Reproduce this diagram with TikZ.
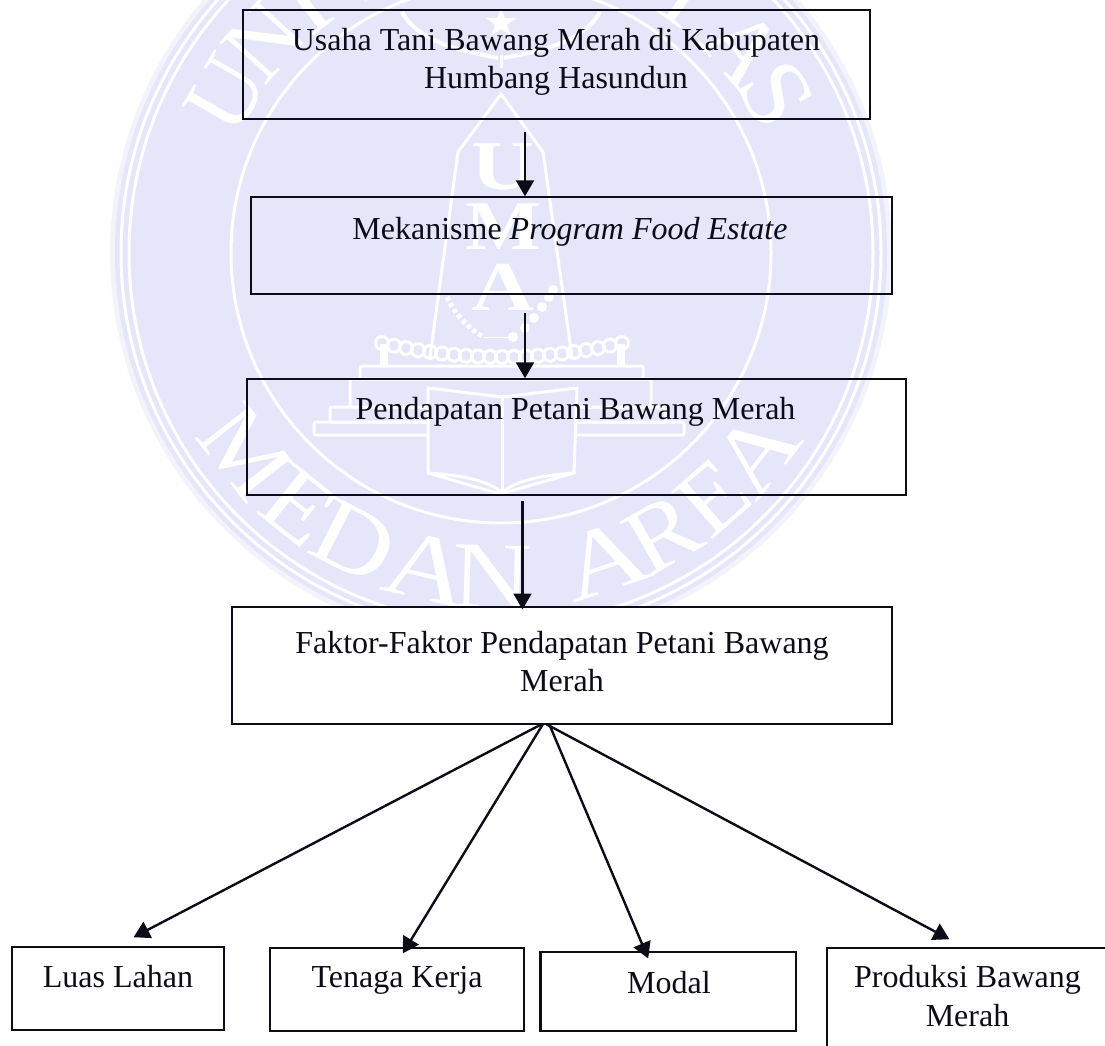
\documentclass[tikz,border=0pt]{standalone}
\usepackage{fontspec}
\usepackage{graphicx}
\setmainfont{Liberation Serif}
\usetikzlibrary{arrows.meta}
\definecolor{wmbg}{HTML}{E5E6F9}
\definecolor{wmedge}{HTML}{F3F3FC}
\definecolor{ink}{HTML}{0C0C18}
\tikzset{
  boxa/.style={draw=ink,line width=2.4pt,inner sep=0pt},
  whitebox/.style={boxa,fill=white},
  lab/.style={font=\fontsize{32}{38.5}\selectfont,text=ink,inner sep=0pt,anchor=base},
  labc/.style={font=\fontsize{32}{38.5}\selectfont,text=ink,inner sep=0pt,align=center,anchor=center},
  arr/.style={draw=ink,line width=2.4pt,-{Triangle[length=16pt,width=18pt,fill=ink]},shorten >=-0.5pt},
  wmline/.style={draw=white,line width=3pt},
  wmletter/.style={text=white,font=\fontsize{96}{96}\selectfont,inner sep=0pt,anchor=center},
  wmcore/.style={text=white,font=\fontsize{70}{70}\selectfont\bfseries,inner sep=0pt,anchor=center},
  wmstep/.style={wmline,rounded corners=2pt,fill=wmbg}
}
\begin{document}
\begin{tikzpicture}[x=1pt,y=-1pt]
\useasboundingbox (0,0) rectangle (1105,1046);
\clip (0,0) rectangle (1105,1046);
% watermark
\fill[wmedge] (501,253) circle (391);
\fill[wmbg] (501,253) circle (386);
\draw[wmline] (501,253) circle (380);
\draw[wmline] (501,253) circle (372);
\draw[wmline] (501,253) circle (270);
\foreach \c/\a/\s [count=\i] in {U/-60/1.0,N/-48/1.0,I/-38/1.1,V/-28/1.1,E/-17/1.1,R/-5/1.1,S/5/1.1,I/15/1.1,T/36/1.0,A/49.7/1.0,S/60/1.1}
  \node[wmletter,rotate=-\a] (wmt\i) at ({501+318*sin(\a)},{253-318*cos(\a)}) {\scalebox{\s}[1]{\c}};
\foreach \c/\a/\s [count=\i] in {M/-52/1.05,E/-38.5/1.1,D/-27/1.15,A/-13/1.25,N/-1.5/1.15,A/18.6/1.25,R/30/1.08,E/41/1.05,A/52/1.15}
  \node[wmletter,rotate=\a] (wmb\i) at ({501+324*sin(\a)},{253+324*cos(\a)}) {\scalebox{\s}[1]{\c}};
% star and wings
\fill[white] (501,8) -- (505,18) -- (516,18) -- (507,25) -- (511,36) -- (501,29) -- (491,36) -- (495,25) -- (486,18) -- (497,18) -- cycle;
\draw[wmline,line width=4pt] (402,12) .. controls (420,45) and (470,52) .. (498,58);
\draw[wmline,line width=4pt] (600,12) .. controls (582,45) and (532,52) .. (504,58);
\draw[wmline] (501,55) -- (501,68);
% monument
\draw[wmline] (430,357) -- (458,152) -- (501,94) -- (543,152) -- (572,357);
\node[wmcore] (wmu) at (503,167) {\scalebox{1.25}[1]{U}};
\node[wmcore] (wmm) at (503,227) {\scalebox{1.15}[1]{M}};
\node[wmcore] (wma) at (503,287) {\scalebox{1.25}[1]{A}};
% wheat and beads
\draw[wmline,line width=5pt,dash pattern=on 4pt off 3pt] (447,297) .. controls (455,315) and (470,330) .. (484,337);
\draw[wmline,line width=1pt] (484,337) -- (513,337);
\foreach \x/\y in {513/337,525/328,534/318,542/307,549/297,553/290}
  \fill[white] (\x,\y) circle (5);
% steps
\draw[wmstep] (314,422) rectangle (684,435);
\draw[wmstep] (330,407) rectangle (665,422);
\draw[wmstep] (350,379) rectangle (651,407);
\draw[wmstep] (360,366) rectangle (643,379);
\draw[wmline,line width=8pt] (384,344) -- (384,366) (621,344) -- (621,366);
% chain
\foreach \x in {382,394,...,622}
  \draw[wmline] (\x,{357-14*((\x-502)/120)*((\x-502)/120)}) circle (6.5);
% book
\draw[wmline,fill=wmbg] (428,388) -- (502,397) -- (577,388) -- (574,473) .. controls (545,475) and (515,480) .. (502,493) .. controls (489,480) and (459,475) .. (428,473) -- cycle;
\draw[wmline] (502,397) -- (502,491);
\draw[wmline] (428,473) -- (500,494) -- (574,473);

% boxes
\node[boxa,minimum width=627pt,minimum height=109pt] (b1) at (556.5,64.5) {};
\node[boxa,minimum width=641pt,minimum height=97pt] (b2) at (571.5,245.5) {};
\node[boxa,minimum width=659pt,minimum height=116pt] (b3) at (576.5,437) {};
\node[whitebox,minimum width=660pt,minimum height=117pt] (b4) at (562,665.5) {};
\node[whitebox,minimum width=212pt,minimum height=83pt] (c1) at (118,988.5) {};
\node[whitebox,minimum width=254pt,minimum height=83pt] (c2) at (397,989.5) {};
\node[whitebox,minimum width=255.5pt,minimum height=79pt] (c3) at (668.25,991.5) {};
\node[whitebox,minimum width=300pt,minimum height=130pt,anchor=north west] (c4) at (826,947) {};
% labels
\node[labc] (t1) at (556,62) {Usaha Tani Bawang Merah di Kabupaten\\Humbang Hasundun};
\node[lab] (t2) at (570,239) {Mekanisme \textit{Program Food Estate}};
\node[lab] (t3) at (575.5,419.5) {Pendapatan Petani Bawang Merah};
\node[labc] (t4) at (562,661.5) {Faktor-Faktor Pendapatan Petani Bawang\\Merah};
\node[lab] (t5) at (118,987) {Luas Lahan};
\node[lab] (t6) at (397,987) {Tenaga Kerja};
\node[lab] (t7) at (669,993) {Modal};
\node[labc] (t8) at (967.5,996) {Produksi Bawang\\Merah};
% connectors
\coordinate (s1) at (525,132);
\coordinate (s2) at (525,313);
\coordinate (s3) at (522.5,501);
\coordinate (e3) at (522.5,609);
\draw[arr] (s1) -- (s1 |- b2.north);
\draw[arr] (s2) -- (s2 |- b3.north);
\draw[arr] (s3) -- (e3);
\coordinate (f1) at (542,724);
\coordinate (f2) at (543,724);
\coordinate (f3) at (550,726);
\coordinate (f4) at (546,724);
\coordinate (g1) at (134,937);
\coordinate (g2) at (403,953);
\coordinate (g3) at (648,958);
\coordinate (g4) at (949,939);
\draw[arr] (f1) -- (g1);
\draw[arr] (f2) -- (g2);
\draw[arr] (f3) -- (g3);
\draw[arr] (f4) -- (g4);
\end{tikzpicture}
\end{document}
